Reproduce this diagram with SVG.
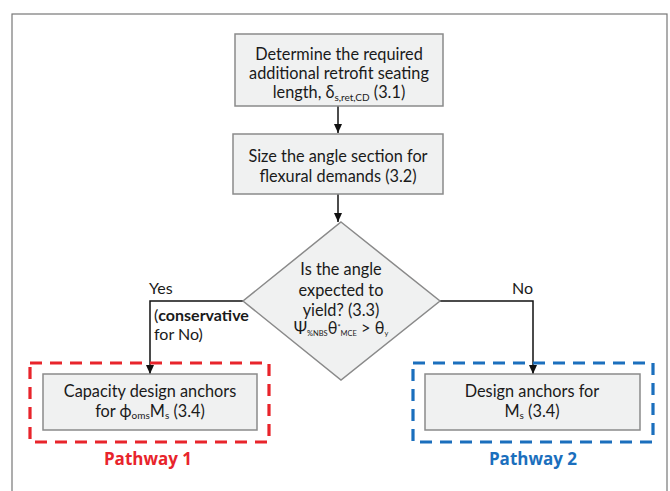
<svg xmlns="http://www.w3.org/2000/svg" width="670" height="491" viewBox="0 0 670 491">
<defs>
<style>
.box{fill:#f0f1f1;stroke:#8a8a8a;stroke-width:1.5}
.t{font-family:Lato,"Open Sans",sans-serif;font-size:16.3px;fill:#1a1a1a;text-anchor:middle}
.tl{font-family:Lato,"Open Sans",sans-serif;font-size:16px;fill:#1a1a1a}
.sub{font-size:10px}
.ln{fill:none;stroke:#111;stroke-width:1.5}
.pw{font-family:"Open Sans",sans-serif;font-size:17px;font-weight:bold;text-anchor:middle}
</style>
<marker id="ah" markerWidth="10" markerHeight="10" refX="9" refY="5" orient="auto" markerUnits="userSpaceOnUse">
<path d="M0,1 L9,5 L0,9 Z" fill="#111"/>
</marker>
</defs>
<rect width="670" height="491" fill="#fff"/>
<rect x="12" y="14" width="655" height="490" fill="none" stroke="#777" stroke-width="1.2"/>

<g id="connectors">
<line class="ln" x1="338" y1="106" x2="338" y2="133" marker-end="url(#ah)"/>
<line class="ln" x1="338" y1="194" x2="338" y2="222" marker-end="url(#ah)"/>
<polyline class="ln" points="243,301 150,301 150,374" marker-end="url(#ah)"/>
<polyline class="ln" points="440,301 533,301 533,374" marker-end="url(#ah)"/>
<text class="tl" x="149" y="294">Yes</text>
<text class="tl" x="154" y="321">(<tspan font-weight="bold">conservative</tspan></text>
<text class="tl" x="154" y="340">for No)</text>
<text class="tl" x="512" y="294">No</text>
</g>

<g id="n1">
<rect class="box" x="235" y="34" width="208" height="72"/>
<text class="t" x="339" y="60">Determine the required</text>
<text class="t" x="339" y="79">additional retrofit seating</text>
<text class="t" x="339" y="98">length, δ<tspan class="sub" dy="3">s,ret,CD</tspan><tspan dy="-3"> (3.1)</tspan></text>
</g>

<g id="n2">
<rect class="box" x="233" y="134" width="210" height="60"/>
<text class="t" x="338" y="162">Size the angle section for</text>
<text class="t" x="338" y="182">flexural demands (3.2)</text>
</g>

<g id="n3">
<polygon class="box" points="341,222 440,301 341,380 243,301"/>
<text class="t" x="341" y="275">Is the angle</text>
<text class="t" x="341" y="296">expected to</text>
<text class="t" x="341" y="316">yield? (3.3)</text>
<text class="t" x="341" y="334" font-size="12">Ψ<tspan font-size="7.5" dy="2">%NBS</tspan><tspan dy="-2">θ</tspan><tspan font-size="7.5" dy="-4">*</tspan><tspan font-size="7.5" dy="6">MCE</tspan><tspan dy="-2"> &gt; θ</tspan><tspan font-size="7.5" dy="2">y</tspan></text>
</g>

<g id="pathway1">
<rect x="30" y="363" width="239" height="79" fill="none" stroke="#e8242b" stroke-width="3.2" stroke-dasharray="12,8"/>
<text class="pw" x="148" y="465" fill="#e8242b">Pathway 1</text>
</g>
<g id="n4">
<rect class="box" x="43" y="374" width="214" height="56"/>
<text class="t" x="150" y="397">Capacity design anchors</text>
<text class="t" x="150" y="417">for ϕ<tspan class="sub" dy="2">oms</tspan><tspan dy="-2">M</tspan><tspan class="sub" dy="2">s</tspan><tspan dy="-2"> (3.4)</tspan></text>
</g>

<g id="pathway2">
<rect x="413" y="363" width="240" height="79" fill="none" stroke="#1b6fbd" stroke-width="3.2" stroke-dasharray="12,8"/>
<text class="pw" x="533" y="465" fill="#1b6fbd">Pathway  2</text>
</g>
<g id="n5">
<rect class="box" x="425" y="374" width="215" height="56"/>
<text class="t" x="532" y="397">Design anchors for</text>
<text class="t" x="532" y="417">M<tspan class="sub" dy="2">s</tspan><tspan dy="-2"> (3.4)</tspan></text>
</g>
</svg>
